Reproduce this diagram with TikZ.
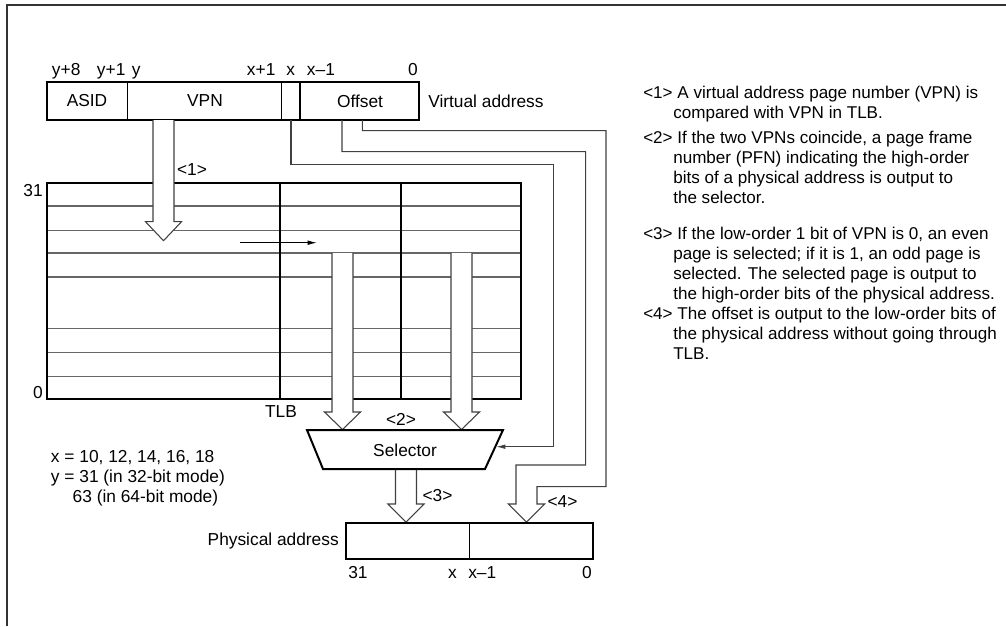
\documentclass[tikz,border=0pt]{standalone}
\usepackage{fontspec}
\setmainfont{Liberation Sans}
\usetikzlibrary{arrows.meta}

\tikzset{
  regbox/.style={draw=black, line width=1.5pt},
  thinline/.style={draw=black, line width=0.8pt},
  rowline/.style={draw=black!60, line width=0.8pt},
  wire/.style={draw=black!75, line width=0.8pt},
  hollow/.style={draw=black!75, fill=white, line width=0.8pt},
  lbl/.style={inner sep=0pt},
  note/.style={inner sep=0pt, anchor=north west, align=left, font=\fontsize{12.8}{13.5}\selectfont},
  smalltip/.style={-{Latex[length=7pt,width=3.5pt]}},
}

% hollow arrow: shaft left x, start y, head y, tip y
\newcommand{\fatarrow}[4]{%
  \draw[hollow] (#1,#2) -- (#1,#3) -- ({#1-7.5},#3) -- ({#1+10.5},#4)
    -- ({#1+28.5},#3) -- ({#1+21},#3) -- ({#1+21},#2);}
% continuation line of a note
\newcommand{\cont}{\\[1.5pt]\hspace*{22.5pt}}

\begin{document}
\begin{tikzpicture}[x=0.75pt, y=-0.75pt, font=\fontsize{13}{13.5}\selectfont]
    \useasboundingbox (0,0) rectangle (1006,626);

    % Frame
    \draw[line width=1.6pt, black!80] (1006,5) -- (7,5) -- (7,626);

    % TLB
    \coordinate (tlbNW) at (47,183);
    \coordinate (tlbSE) at (521,399);
    \foreach \r in {206,230.5,253,277,328.5,352.5,376.5}
        \draw[rowline] (47,\r) -- (521,\r);
    \foreach \c in {280,401}
        \draw[thinline] (\c,183) -- (\c,399);
    \draw[regbox] (tlbNW) rectangle (tlbSE);
    \node[lbl, anchor=north east] (tlbtop) at (43,184) {31};
    \node[lbl, anchor=south east] (tlbbot) at (43,399) {0};
    \node[lbl] (tlbname) at (281,412) {TLB};

    % Comparison inside TLB
    \coordinate (cmpA) at (240,242.7);
    \coordinate (cmpB) at (317,242.7);
    \draw[thinline, smalltip] (cmpA) -- (cmpB);

    % Virtual address
    \draw[regbox] (46.7,82.3) rectangle (419.3,120);
    \foreach \c in {127.7,281.7,300}
        \draw[thinline] (\c,82.3) -- (\c,120);
    \node[lbl] (asid) at (87,101) {ASID};
    \node[lbl] (vpn) at (205,101) {VPN};
    \node[lbl] (offset) at (360,101) {Offset};
    \node[lbl, anchor=west] (vlabel) at (428,101) {Virtual address};
    \node[lbl, anchor=base west] (vy8) at (51.7,75) {y+8};
    \node[lbl, anchor=base west] (vy1) at (96.7,75) {y+1};
    \node[lbl, anchor=base west] (vy) at (131.7,75) {y};
    \node[lbl, anchor=base west] (vx1) at (246.7,75) {x+1};
    \node[lbl, anchor=base west] (vx) at (286,75) {x};
    \node[lbl, anchor=base west] (vxm) at (306.7,75) {x--1};
    \node[lbl, anchor=base east] (v0) at (418,75) {0};

    % Wide arrows
    \fatarrow{153}{120}{221.7}{240.7}
    \fatarrow{332}{253}{412}{429.5}
    \fatarrow{451}{253}{412}{429.5}
    \fatarrow{395.5}{469}{504}{522}
    \node[lbl] (s1) at (192,170) {<1>};
    \node[lbl] (s2) at (401,419) {<2>};
    \node[lbl] (s3) at (437.5,496) {<3>};
    \node[lbl] (s4) at (562.5,502) {<4>};

    % Selector
    \draw[regbox] (307,430) -- (503,430) -- (485,469) -- (323,469) -- cycle;
    \node[lbl] (sel) at (405,450) {Selector};

    % Wires from the virtual address
    \coordinate (tapx) at (291,120);
    \coordinate (tapB) at (342,120);
    \coordinate (tapC) at (362.3,120);
    \coordinate (selin) at (496,446.7);
    \draw[wire, smalltip] (tapx) |- (553.3,164.3) |- (selin);
    \draw[wire] (tapB) |- (585.7,151.7) |- (516,465) -- (516,504)
        -- (508.5,504) -- (526.5,522) -- (544.5,504) -- (537,504)
        |- (606,486.7) -- (606,130.7) -| (tapC);

    % Physical address
    \draw[regbox] (346,522.7) rectangle (593.3,559);
    \draw[thinline] (469.5,522.7) -- (469.5,559);
    \node[lbl, anchor=east] (plabel) at (339,541) {Physical address};
    \node[lbl, anchor=base west] (p31) at (348,578) {31};
    \node[lbl, anchor=base east] (px) at (457,578) {x};
    \node[lbl, anchor=base west] (pxm) at (468,578) {x--1};
    \node[lbl, anchor=base east] (p0) at (592,578) {0};

    % Values of x and y
    \node[lbl, anchor=north west, align=left] (modes) at (50.7,450.6)
        {x = 10, 12, 14, 16, 18\\[1.5pt]y = 31 (in 32-bit mode)\\[1.5pt]\hspace*{16.3pt}63 (in 64-bit mode)};

    % Notes
    \node[note] (note1) at (643,85.4) {<1> A virtual address page number (VPN) is
        \cont compared with VPN in TLB.};
    \node[note] (note2) at (643,130.4) {<2> If the two VPNs coincide, a page frame
        \cont number (PFN) indicating the high-order
        \cont bits of a physical address is output to
        \cont the selector.};
    \node[note] (note3) at (643,226.4) {<3> If the low-order 1 bit of VPN is 0, an even
        \cont page is selected; if it is 1, an odd page is
        \cont selected. The selected page is output to
        \cont the high-order bits of the physical address.};
    \node[note] (note4) at (643,306.4) {<4> The offset is output to the low-order bits of
        \cont the physical address without going through
        \cont TLB.};
\end{tikzpicture}
\end{document}
